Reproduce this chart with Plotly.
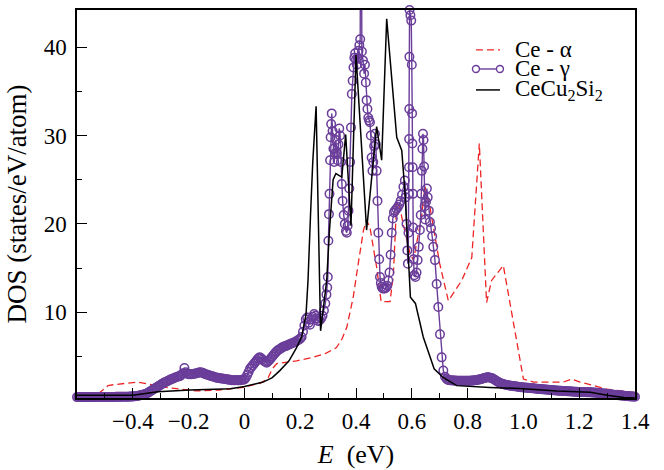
import plotly.graph_objects as go

# ---------------- data ----------------
# Ce - alpha (red dashed)
alpha_e = [-0.600, -0.530, -0.489, -0.470, -0.385, -0.330, -0.280, -0.175, -0.090, -0.005,
           0.060, 0.085, 0.100, 0.116, 0.187, 0.246, 0.295, 0.330, 0.350, 0.367,
           0.390, 0.408, 0.427, 0.438, 0.450, 0.474, 0.490, 0.522, 0.534, 0.546,
           0.557, 0.569, 0.594, 0.606, 0.635, 0.647, 0.665, 0.700, 0.731, 0.779,
           0.815, 0.842, 0.868, 0.886, 0.928, 1.000, 1.036, 1.143, 1.173, 1.203,
           1.300, 1.400]
alpha_dos = [0.5, 0.6, 1.7, 1.8, 2.1, 1.8, 1.5, 1.1, 1.2, 1.5,
             2.0, 2.6, 3.6, 4.2, 4.5, 4.9, 5.4, 6.0, 7.0, 8.3,
             11.7, 15.5, 19.3, 20.4, 19.6, 15.1, 11.2, 11.2, 14.3, 22.6,
             21.9, 20.0, 16.6, 15.9, 20.8, 24.2, 21.9, 15.5, 11.3, 13.6,
             16.2, 29.1, 11.1, 13.6, 15.3, 2.45, 2.1, 2.1, 2.45, 2.1,
             1.3, 0.9]

# Ce - gamma (purple, open circles), (E, DOS) pairs: low-energy part
gamma_low = [
    (-0.600, 0.40), (-0.595, 0.40), (-0.590, 0.40), (-0.585, 0.40), (-0.580, 0.40),
    (-0.575, 0.40), (-0.570, 0.40), (-0.565, 0.40), (-0.560, 0.40), (-0.555, 0.40),
    (-0.550, 0.40), (-0.545, 0.40), (-0.540, 0.40), (-0.535, 0.40), (-0.530, 0.41),
    (-0.525, 0.41), (-0.520, 0.41), (-0.515, 0.41), (-0.510, 0.41), (-0.505, 0.41),
    (-0.500, 0.41), (-0.495, 0.41), (-0.490, 0.42), (-0.485, 0.42), (-0.480, 0.42),
    (-0.475, 0.42), (-0.470, 0.42), (-0.465, 0.42), (-0.460, 0.43), (-0.455, 0.43),
    (-0.450, 0.43), (-0.445, 0.43), (-0.440, 0.44), (-0.435, 0.44), (-0.430, 0.44),
    (-0.425, 0.45), (-0.420, 0.45), (-0.415, 0.45), (-0.410, 0.46), (-0.405, 0.46),
    (-0.400, 0.47), (-0.395, 0.49), (-0.390, 0.51), (-0.385, 0.53), (-0.380, 0.56),
    (-0.375, 0.59), (-0.370, 0.63), (-0.365, 0.67), (-0.360, 0.71), (-0.355, 0.76),
    (-0.350, 0.82), (-0.345, 0.90), (-0.340, 1.00), (-0.335, 1.10), (-0.330, 1.20),
    (-0.325, 1.30), (-0.320, 1.40), (-0.315, 1.50), (-0.310, 1.60), (-0.305, 1.70),
    (-0.300, 1.80), (-0.295, 1.90), (-0.290, 2.00), (-0.285, 2.08), (-0.280, 2.15),
    (-0.275, 2.22), (-0.270, 2.30), (-0.265, 2.38), (-0.260, 2.45), (-0.255, 2.52),
    (-0.250, 2.60), (-0.245, 2.65), (-0.240, 2.70), (-0.235, 2.75), (-0.230, 2.80),
    (-0.225, 2.95), (-0.220, 3.10), (-0.215, 3.70), (-0.210, 3.20), (-0.205, 3.05),
    (-0.200, 3.00), (-0.195, 3.00), (-0.190, 3.00), (-0.185, 3.02), (-0.180, 3.05),
    (-0.175, 3.08), (-0.170, 3.10), (-0.165, 3.15), (-0.160, 3.20), (-0.155, 3.18),
    (-0.150, 3.15), (-0.145, 3.08), (-0.140, 3.00), (-0.135, 2.95), (-0.130, 2.90),
    (-0.125, 2.85), (-0.120, 2.80), (-0.115, 2.75), (-0.110, 2.70), (-0.105, 2.65),
    (-0.100, 2.60), (-0.095, 2.58), (-0.090, 2.55), (-0.085, 2.52), (-0.080, 2.50),
    (-0.075, 2.48), (-0.070, 2.45), (-0.065, 2.42), (-0.060, 2.40), (-0.055, 2.38),
    (-0.050, 2.35), (-0.045, 2.32), (-0.040, 2.30), (-0.035, 2.30), (-0.030, 2.30),
    (-0.025, 2.30), (-0.020, 2.30), (-0.015, 2.32), (-0.010, 2.35), (-0.005, 2.38),
    (0.000, 2.40), (0.005, 2.60), (0.010, 2.90), (0.015, 3.25), (0.020, 3.60),
    (0.025, 3.80), (0.030, 4.00), (0.035, 4.20), (0.040, 4.40), (0.045, 4.60),
    (0.050, 4.80), (0.055, 4.90), (0.060, 4.80), (0.065, 4.65), (0.070, 4.50),
    (0.075, 4.40), (0.080, 4.30), (0.085, 4.45), (0.090, 4.60), (0.095, 4.80),
    (0.100, 5.00), (0.105, 5.20), (0.110, 5.40), (0.115, 5.55), (0.120, 5.70),
    (0.125, 5.80), (0.130, 5.90), (0.135, 6.00), (0.140, 6.10), (0.145, 6.15),
    (0.150, 6.20), (0.155, 6.28), (0.160, 6.35), (0.165, 6.42), (0.170, 6.50),
    (0.175, 6.55), (0.180, 6.60), (0.185, 6.70), (0.190, 6.80), (0.195, 6.90),
    (0.200, 7.00), (0.205, 7.20), (0.210, 7.80), (0.215, 8.50), (0.220, 9.20),
    (0.225, 9.40), (0.230, 8.80), (0.235, 8.60), (0.240, 9.20), (0.245, 9.50),
    (0.250, 9.80), (0.255, 9.60), (0.260, 9.30), (0.265, 9.00), (0.270, 9.10),
    (0.275, 9.30), (0.280, 9.60), (0.285, 10.2), (0.290, 11.0),
]

# Ce - gamma: resonance region
gamma_peak = [
    (0.294, 12.0), (0.297, 12.8), (0.299, 14.0), (0.301, 18.1), (0.303, 21.1),
    (0.305, 23.4), (0.307, 27.2), (0.309, 29.8), (0.311, 31.3), (0.313, 32.5),
    (0.316, 30.5), (0.319, 28.5), (0.322, 27.0), (0.325, 28.0), (0.328, 29.5),
    (0.331, 28.0), (0.334, 27.2), (0.337, 29.0), (0.340, 30.8), (0.343, 30.0),
    (0.346, 27.0), (0.349, 24.5), (0.352, 22.6), (0.356, 21.0), (0.360, 20.0),
    (0.364, 19.2), (0.367, 19.0), (0.370, 19.8), (0.373, 21.5), (0.376, 24.0),
    (0.379, 27.0), (0.382, 30.9), (0.385, 34.7), (0.388, 36.2), (0.391, 37.7),
    (0.394, 38.8), (0.397, 39.3), (0.400, 38.6), (0.403, 38.0), (0.406, 38.8),
    (0.409, 39.6), (0.412, 40.2), (0.415, 40.9), (0.418, 70.0), (0.421, 39.5),
    (0.425, 38.5), (0.429, 37.0), (0.432, 38.0), (0.435, 36.0), (0.438, 34.0),
    (0.441, 33.0), (0.444, 32.0), (0.447, 31.7), (0.450, 31.5), (0.453, 30.0),
    (0.456, 27.5), (0.459, 26.0), (0.462, 27.0), (0.465, 28.8), (0.468, 30.2),
    (0.471, 29.0), (0.474, 26.0), (0.477, 22.6), (0.480, 19.0), (0.483, 16.0),
    (0.486, 14.0), (0.489, 13.3), (0.492, 12.9), (0.496, 12.7), (0.500, 12.7),
    (0.504, 12.7), (0.508, 12.8), (0.512, 13.0), (0.516, 13.6), (0.520, 14.5),
    (0.524, 16.5), (0.528, 19.0), (0.532, 20.6), (0.536, 21.3), (0.540, 21.5),
    (0.545, 21.7), (0.550, 21.9), (0.555, 22.2), (0.560, 22.6), (0.565, 23.3),
    (0.570, 24.2), (0.575, 24.9), (0.578, 23.0), (0.581, 20.0), (0.584, 17.0),
    (0.586, 15.5), (0.588, 19.0), (0.589, 23.4), (0.590, 26.4), (0.5905, 29.6),
    (0.591, 33.0), (0.5915, 38.9), (0.592, 44.2), (0.595, 43.6), (0.598, 43.0),
    (0.600, 38.0), (0.601, 32.5), (0.602, 29.1), (0.603, 26.4), (0.604, 23.4),
    (0.605, 19.6), (0.606, 16.0), (0.609, 14.2), (0.613, 14.0), (0.617, 14.5),
    (0.621, 15.9), (0.625, 17.4), (0.629, 19.3), (0.632, 21.0), (0.634, 23.4),
    (0.636, 26.0), (0.638, 28.5), (0.640, 30.2), (0.642, 29.5), (0.644, 26.5),
    (0.646, 22.0), (0.648, 20.5), (0.651, 22.5), (0.654, 24.0), (0.657, 23.0),
    (0.661, 21.5), (0.665, 20.2), (0.669, 19.5), (0.673, 18.6), (0.677, 17.4),
    (0.683, 15.9), (0.689, 13.2), (0.695, 10.6), (0.701, 7.5), (0.707, 4.9),
    (0.713, 3.4), (0.719, 2.7), (0.725, 2.46),
]

# Ce - gamma: high-energy tail
gamma_tail = [
    (0.730, 2.35), (0.735, 2.32), (0.740, 2.30), (0.745, 2.29), (0.750, 2.28),
    (0.755, 2.27), (0.760, 2.26), (0.765, 2.26), (0.770, 2.26), (0.775, 2.26),
    (0.780, 2.26), (0.785, 2.26), (0.790, 2.26), (0.795, 2.26), (0.800, 2.26),
    (0.805, 2.26), (0.810, 2.26), (0.815, 2.27), (0.820, 2.28), (0.825, 2.30),
    (0.830, 2.32), (0.835, 2.35), (0.840, 2.38), (0.845, 2.41), (0.850, 2.45),
    (0.855, 2.50), (0.860, 2.55), (0.865, 2.60), (0.870, 2.64), (0.875, 2.64),
    (0.880, 2.60), (0.885, 2.56), (0.890, 2.50), (0.895, 2.40), (0.900, 2.30),
    (0.905, 2.20), (0.910, 2.10), (0.915, 2.02), (0.920, 1.95), (0.925, 1.90),
    (0.930, 1.85), (0.935, 1.81), (0.940, 1.78), (0.945, 1.75), (0.950, 1.72),
    (0.955, 1.69), (0.960, 1.66), (0.965, 1.64), (0.970, 1.62), (0.975, 1.60),
    (0.980, 1.57), (0.985, 1.55), (0.990, 1.53), (0.995, 1.52), (1.000, 1.50),
    (1.005, 1.48), (1.010, 1.47), (1.015, 1.45), (1.020, 1.44), (1.025, 1.42),
    (1.030, 1.41), (1.035, 1.39), (1.040, 1.38), (1.045, 1.36), (1.050, 1.35),
    (1.055, 1.33), (1.060, 1.32), (1.065, 1.30), (1.070, 1.29), (1.075, 1.27),
    (1.080, 1.26), (1.085, 1.24), (1.090, 1.23), (1.095, 1.21), (1.100, 1.20),
    (1.105, 1.18), (1.110, 1.17), (1.115, 1.15), (1.120, 1.14), (1.125, 1.13),
    (1.130, 1.12), (1.135, 1.11), (1.140, 1.10), (1.145, 1.09), (1.150, 1.08),
    (1.155, 1.07), (1.160, 1.06), (1.165, 1.05), (1.170, 1.04), (1.175, 1.03),
    (1.180, 1.02), (1.185, 1.01), (1.190, 1.00), (1.195, 0.99), (1.200, 0.99),
    (1.205, 0.98), (1.210, 0.98), (1.215, 0.97), (1.220, 0.97), (1.225, 0.96),
    (1.230, 0.96), (1.235, 0.95), (1.240, 0.94), (1.245, 0.93), (1.250, 0.92),
    (1.255, 0.91), (1.260, 0.90), (1.265, 0.88), (1.270, 0.87), (1.275, 0.85),
    (1.280, 0.84), (1.285, 0.82), (1.290, 0.80), (1.295, 0.78), (1.300, 0.76),
    (1.305, 0.74), (1.310, 0.72), (1.315, 0.70), (1.320, 0.68), (1.325, 0.66),
    (1.330, 0.65), (1.335, 0.63), (1.340, 0.62), (1.345, 0.60), (1.350, 0.59),
    (1.355, 0.57), (1.360, 0.56), (1.365, 0.54), (1.370, 0.53), (1.375, 0.51),
    (1.380, 0.50), (1.385, 0.48), (1.390, 0.47), (1.395, 0.46), (1.400, 0.45),
]

# CeCu2Si2 (black solid)
cecu_e = [-0.600, -0.400, -0.310, -0.195, -0.050, 0.000, 0.067, 0.100, 0.127, 0.160,
          0.187, 0.205, 0.221, 0.228, 0.237, 0.245, 0.257, 0.273, 0.295, 0.305,
          0.318, 0.328, 0.349, 0.363, 0.382, 0.400, 0.438, 0.474, 0.492, 0.510,
          0.546, 0.564, 0.576, 0.595, 0.613, 0.641, 0.665, 0.680, 0.713, 0.761,
          0.880, 1.000, 1.120, 1.240, 1.300, 1.360, 1.400]
cecu_dos = [0.6, 0.6, 1.0, 1.2, 1.35, 1.6, 2.1, 2.6, 3.4, 4.5,
            6.0, 7.2, 9.8, 13.6, 21.0, 27.0, 33.3, 7.9, 13.6, 19.3,
            25.0, 25.7, 25.3, 30.1, 19.8, 39.1, 19.3, 31.0, 27.2, 43.2,
            29.8, 28.3, 23.4, 11.7, 11.0, 7.2, 5.0, 3.6, 2.6, 1.7,
            1.5, 1.35, 1.1, 0.95, 0.6, 0.35, 0.3]

x_tickvals = [-0.4, -0.2, 0.0, 0.2, 0.4, 0.6, 0.8, 1.0, 1.2, 1.4]
x_ticktext = ["\u22120.4", "\u22120.2", "0", "0.2", "0.4", "0.6", "0.8", "1.0", "1.2", "1.4"]
x_minor = [-0.5, -0.3, -0.1, 0.1, 0.3, 0.5, 0.7, 0.9, 1.1, 1.3]
y_tickvals = [10, 20, 30, 40]
y_minor = [5, 15, 25, 35]

legend_labels = ["Ce - \u03b1", "Ce - \u03b3", "CeCu<sub>2</sub>Si<sub>2</sub>"]

# ---------------- style ----------------
RED = "#ee2424"
PURPLE = "#6a3d9a"
BLACK = "#000000"
FONT = "Liberation Serif, Times New Roman, Times, DejaVu Serif, serif"

gamma_pts = gamma_low + gamma_peak + gamma_tail
gamma_e = [p[0] for p in gamma_pts]
gamma_dos = [p[1] for p in gamma_pts]

fig = go.Figure()
fig.add_trace(go.Scatter(x=alpha_e, y=alpha_dos, mode="lines", name=legend_labels[0],
                         line=dict(color=RED, width=1.3, dash="7px,4px"), showlegend=False))
fig.add_trace(go.Scatter(x=gamma_e, y=gamma_dos, mode="lines+markers", name=legend_labels[1],
                         line=dict(color=PURPLE, width=1.4),
                         marker=dict(symbol="circle-open", size=8.5, color=PURPLE,
                                     line=dict(width=1.5, color=PURPLE)),
                         cliponaxis=False, showlegend=False))
fig.add_trace(go.Scatter(x=cecu_e, y=cecu_dos, mode="lines", name=legend_labels[2],
                         line=dict(color=BLACK, width=1.5), showlegend=False))

axis_common = dict(showline=True, linecolor="black", linewidth=1.5, mirror=True,
                   ticks="inside", ticklen=10, tickwidth=1.3, tickcolor="black",
                   showgrid=False, zeroline=False, automargin=False,
                   tickfont=dict(family=FONT, size=23, color="black"))

fig.update_xaxes(range=[-0.6, 1.4], tickmode="array", tickvals=x_tickvals, ticktext=x_ticktext,
                 minor=dict(tickmode="array", tickvals=x_minor, ticks="inside", ticklen=5,
                            tickwidth=1.3, tickcolor="black"),
                 ticklabelstandoff=2,
                 title=dict(text="<i>E</i>  (eV)", font=dict(family=FONT, size=26, color="black"),
                            standoff=11),
                 **axis_common)
fig.update_yaxes(range=[0.3, 44.2], tickmode="array", tickvals=y_tickvals,
                 minor=dict(tickmode="array", tickvals=y_minor, ticks="inside", ticklen=5,
                            tickwidth=1.3, tickcolor="black"),
                 ticklabelstandoff=4,
                 title=dict(text="DOS (states/eV/atom)", font=dict(family=FONT, size=27, color="black"),
                            standoff=9),
                 **axis_common)

# hand-built legend block in the upper right corner
row_y = [0.897, 0.848, 0.794]
sx0, sx1, tx = 0.715, 0.758, 0.781
shapes = [
    dict(type="line", xref="paper", yref="paper", x0=sx0, x1=sx1, y0=row_y[0], y1=row_y[0],
         line=dict(color=RED, width=1.3, dash="7px,4px")),
    dict(type="line", xref="paper", yref="paper", x0=sx0, x1=sx1, y0=row_y[1], y1=row_y[1],
         line=dict(color=PURPLE, width=1.4)),
    dict(type="line", xref="paper", yref="paper", x0=sx0, x1=sx1, y0=row_y[2], y1=row_y[2],
         line=dict(color=BLACK, width=1.5)),
]
for xa in (sx0, sx1):
    shapes.append(dict(type="circle", xref="paper", yref="paper", xsizemode="pixel",
                       ysizemode="pixel", xanchor=xa, yanchor=row_y[1],
                       x0=-3.5, x1=3.5, y0=-3.5, y1=3.5,
                       line=dict(color=PURPLE, width=1.4), fillcolor="white"))
annotations = [
    dict(text=lbl, x=tx, y=yy, xref="paper", yref="paper", xanchor="left", yanchor="middle",
         showarrow=False, font=dict(family=FONT, size=23, color="black"))
    for lbl, yy in zip(legend_labels, row_y)
]

fig.update_layout(width=664, height=470, margin=dict(l=77, r=29, t=10, b=72),
                  paper_bgcolor="white", plot_bgcolor="white",
                  shapes=shapes, annotations=annotations, showlegend=False)

fig.write_html("out.html")
